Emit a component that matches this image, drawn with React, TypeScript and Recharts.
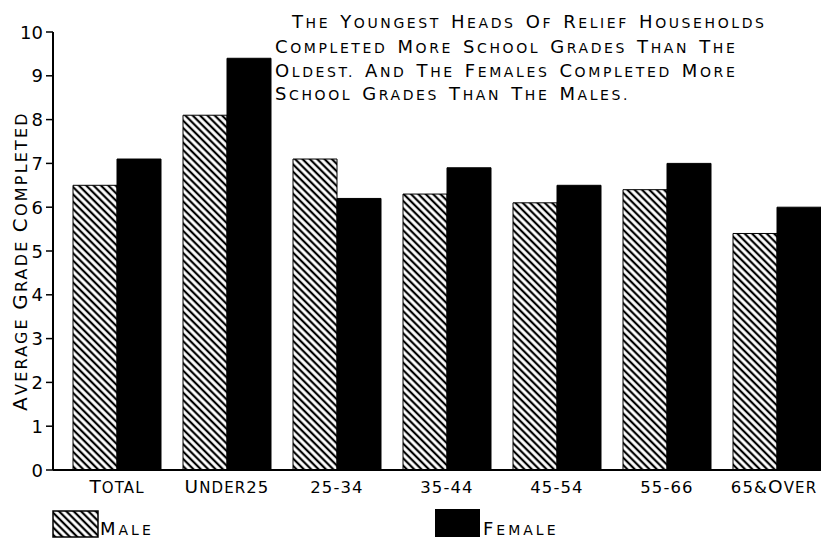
import React from 'react';
import { BarChart, Bar, XAxis, YAxis } from 'recharts';

const categories = ['Total', 'Under25', '25-34', '35-44', '45-54', '55-66', '65&Over'];
const maleValues = [6.5, 8.1, 7.1, 6.3, 6.1, 6.4, 5.4];
const femaleValues = [7.1, 9.4, 6.2, 6.9, 6.5, 7.0, 6.0];
const yTicks = [0, 1, 2, 3, 4, 5, 6, 7, 8, 9, 10];
const titleLines = [
  'The Youngest Heads Of Relief Households',
  'Completed More School Grades Than The',
  'Oldest. And The Females Completed More',
  'School Grades Than The Males.',
];
const yAxisTitle = 'Average Grade Completed';
const legendLabels = ['Male', 'Female'];

const data = categories.map((c, i) => ({ name: c, male: maleValues[i], female: femaleValues[i] }));

const FONT = '"DejaVu Sans", sans-serif';

// manual small caps: lowercase -> small uppercase, uppercase -> big, others -> mid
function smallCaps(text: string, big: number, small: number, mid: number) {
  const parts: { s: string; size: number }[] = [];
  for (const ch of text) {
    let size = mid;
    let out = ch;
    if (/[a-z]/.test(ch)) { size = small; out = ch.toUpperCase(); }
    else if (/[A-Z]/.test(ch)) { size = big; }
    const last = parts[parts.length - 1];
    if (last && last.size === size) last.s += out;
    else parts.push({ s: out, size });
  }
  return parts.map((p, i) => (
    <tspan key={i} fontSize={p.size}>{p.s}</tspan>
  ));
}

const XTick = (props: any) => {
  const { x, y, payload, index } = props;
  const last = index === categories.length - 1;
  return (
    <text x={last ? x - 3 : x} y={y + 15} textAnchor="middle" fill="#000" fontFamily={FONT} letterSpacing={1.1}>
      {smallCaps(String(payload.value), 18.5, 15, 16.5)}
    </text>
  );
};

const YTick = (props: any) => {
  const { x, y, payload } = props;
  return (
    <text x={x - 1} y={y + 6.5} textAnchor="end" fill="#000" fontFamily={FONT} fontSize={18}>
      {payload.value}
    </text>
  );
};

const YLabel = () => (
  <text x={27} y={261} transform="rotate(-90 27 261)" textAnchor="middle" fill="#000"
    fontFamily={FONT} letterSpacing={2.2}>
    {smallCaps(yAxisTitle, 20, 16, 16)}
  </text>
);

const Hatch = ({ id }: { id: string }) => (
  <pattern id={id} patternUnits="userSpaceOnUse" width="5.2" height="5.2" patternTransform="rotate(45)">
    <rect width="5.2" height="5.2" fill="#fff" />
    <line x1="0" y1="2.6" x2="5.2" y2="2.6" stroke="#000" strokeWidth="2.2" />
  </pattern>
);

const titleX = [292, 275, 275, 275];
const titleY = [28, 53, 77, 100];

export default function App() {
  return (
    <div style={{ position: 'absolute', left: 0, top: 0, width: 821, height: 540, overflow: 'hidden', background: '#fff' }}>
      <BarChart width={850} height={540} data={data}
        margin={{ top: 32, right: 18, bottom: 40, left: 0 }}
        barCategoryGap="10%" barGap={0}>
        <defs>
          <Hatch id="hatchMale" />
        </defs>
        <XAxis dataKey="name" tickLine={false} axisLine={{ stroke: '#000', strokeWidth: 2 }}
          padding={{ left: 9, right: 0 }} tick={<XTick />} interval={0} height={30} />
        <YAxis domain={[0, 10]} ticks={yTicks} width={53} interval={0}
          axisLine={{ stroke: '#000', strokeWidth: 2 }} tickLine={{ stroke: '#000', strokeWidth: 1.5 }}
          tickSize={7} tick={<YTick />} label={YLabel} />
        <Bar dataKey="male" fill="url(#hatchMale)" stroke="#000" strokeWidth={1} isAnimationActive={false} />
        <Bar dataKey="female" fill="#000" stroke="#000" strokeWidth={1} isAnimationActive={false} />
      </BarChart>
      <svg style={{ position: 'absolute', left: 0, top: 0, pointerEvents: 'none' }} width={821} height={540}>
        <defs>
          <Hatch id="hatchLegend" />
        </defs>
        {titleLines.map((l, i) => (
          <text key={i} x={titleX[i]} y={titleY[i]} fill="#000" fontFamily={FONT} letterSpacing={2.6} wordSpacing={3}>
            {smallCaps(l, 18, 14, 14)}
          </text>
        ))}
        <rect x={53} y={511} width={45} height={26} fill="url(#hatchLegend)" stroke="#000" strokeWidth={1.5} />
        <text x={100} y={535} fill="#000" fontFamily={FONT} letterSpacing={3}>
          {smallCaps(legendLabels[0], 18, 14, 14)}
        </text>
        <rect x={435} y={509} width={45} height={28} fill="#000" />
        <text x={483} y={535} fill="#000" fontFamily={FONT} letterSpacing={3}>
          {smallCaps(legendLabels[1], 18, 14, 14)}
        </text>
      </svg>
    </div>
  );
}
